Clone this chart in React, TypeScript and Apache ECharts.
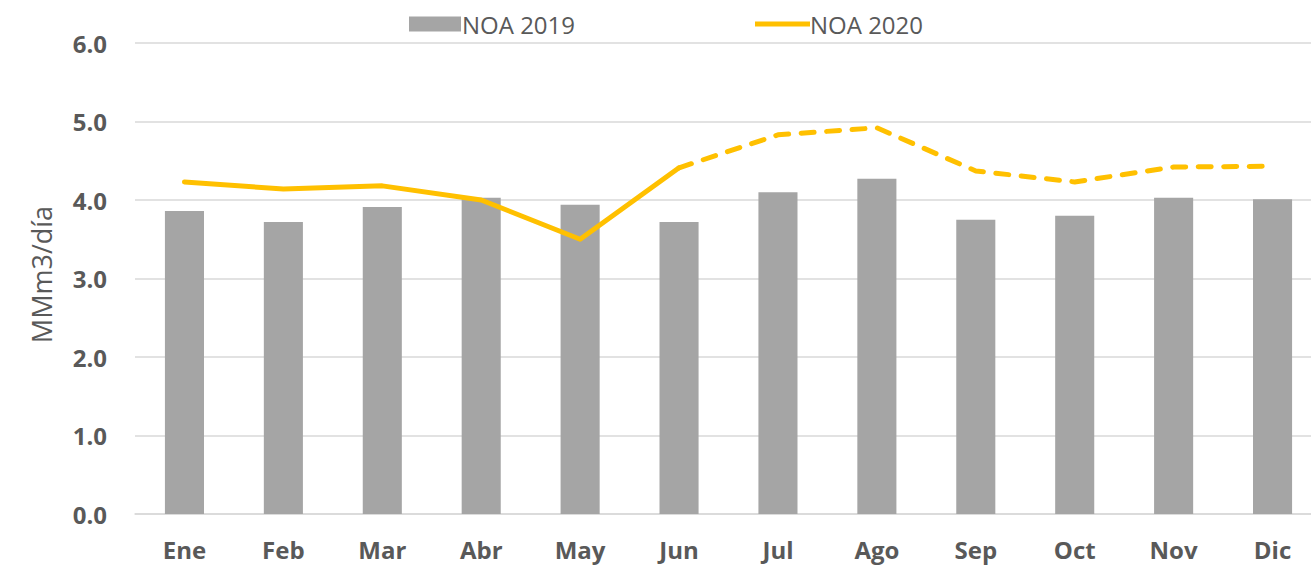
import React, { useEffect, useRef } from "react";
import * as echarts from "echarts";

const categories = ["Ene", "Feb", "Mar", "Abr", "May", "Jun", "Jul", "Ago", "Sep", "Oct", "Nov", "Dic"];
const noa2019 = [3.86, 3.72, 3.91, 4.03, 3.94, 3.72, 4.10, 4.27, 3.75, 3.80, 4.03, 4.01];
const noa2020Real = [4.23, 4.14, 4.18, 4.00, 3.50, 4.41, null, null, null, null, null, null];
const noa2020Proj = [null, null, null, null, null, 4.41, 4.83, 4.92, 4.37, 4.23, 4.42, 4.43];
const yTicks = { min: 0, max: 6, interval: 1 };

const FONT = "'Open Sans', 'Noto Sans', sans-serif";
const TXT = "#595959";

export default function App() {
  const ref = useRef<HTMLDivElement>(null);
  useEffect(() => {
    const chart = echarts.init(ref.current!, null, { renderer: "svg" });
    chart.setOption({
      animation: false,
      backgroundColor: "#ffffff",
      textStyle: { fontFamily: FONT },
      legend: [
        {
          data: [{ name: "NOA 2019", icon: "rect" }],
          left: 404,
          top: 7,
          itemWidth: 52,
          itemHeight: 15,
          itemGap: 5,
          textStyle: { fontSize: 24, color: TXT, fontFamily: FONT, padding: [0, 0, 0, -4] },
        },
        {
          data: [{ name: "NOA 2020", icon: "rect" }],
          left: 750,
          top: 7,
          itemWidth: 55,
          itemHeight: 5,
          textStyle: { fontSize: 24, color: TXT, fontFamily: FONT, padding: [0, 0, 0, -5] },
        },
      ],
      grid: {
        left: 135,
        width: 1187,
        top: 43,
        bottom: 52,
        containLabel: false,
        outerBoundsMode: "none",
      },
      xAxis: {
        type: "category",
        data: categories,
        axisLine: { lineStyle: { color: "#D9D9D9", width: 1.5 } },
        axisTick: { show: false },
        axisLabel: { fontSize: 24, fontWeight: "bold", color: TXT, margin: 23, fontFamily: FONT },
      },
      yAxis: {
        type: "value",
        min: yTicks.min,
        max: yTicks.max,
        interval: yTicks.interval,
        name: "MMm3/día",
        nameLocation: "middle",
        nameGap: 80,
        nameRotate: 90,
        nameTextStyle: { fontSize: 27, color: TXT, fontFamily: FONT, padding: [0, 0, 0, 8] },
        axisLine: { show: false },
        axisTick: { show: false },
        axisLabel: {
          fontSize: 24,
          fontWeight: "bold",
          color: TXT,
          margin: 28,
          fontFamily: FONT,
          formatter: (v: number) => v.toFixed(1),
        },
        splitLine: { lineStyle: { color: "#D9D9D9", width: 1.5 } },
      },
      series: [
        {
          name: "NOA 2019",
          type: "bar",
          data: noa2019,
          barWidth: "39.5%",
          itemStyle: { color: "#A5A5A5" },
        },
        {
          name: "NOA 2020",
          type: "line",
          data: noa2020Real,
          showSymbol: false,
          symbol: "none",
          itemStyle: { color: "#FFC000" },
          lineStyle: { color: "#FFC000", width: 5, cap: "round", join: "round" },
          z: 5,
        },
        {
          name: "NOA 2020 proyección",
          type: "line",
          data: noa2020Proj,
          showSymbol: false,
          symbol: "none",
          itemStyle: { color: "#FFC000" },
          lineStyle: { color: "#FFC000", width: 5, type: [13, 12.5], cap: "round", join: "round" },
          z: 5,
        },
      ],
    });
    return () => chart.dispose();
  }, []);
  return <div ref={ref} style={{ width: 1311, height: 566, position: "absolute", left: 0, top: 0 }} />;
}
